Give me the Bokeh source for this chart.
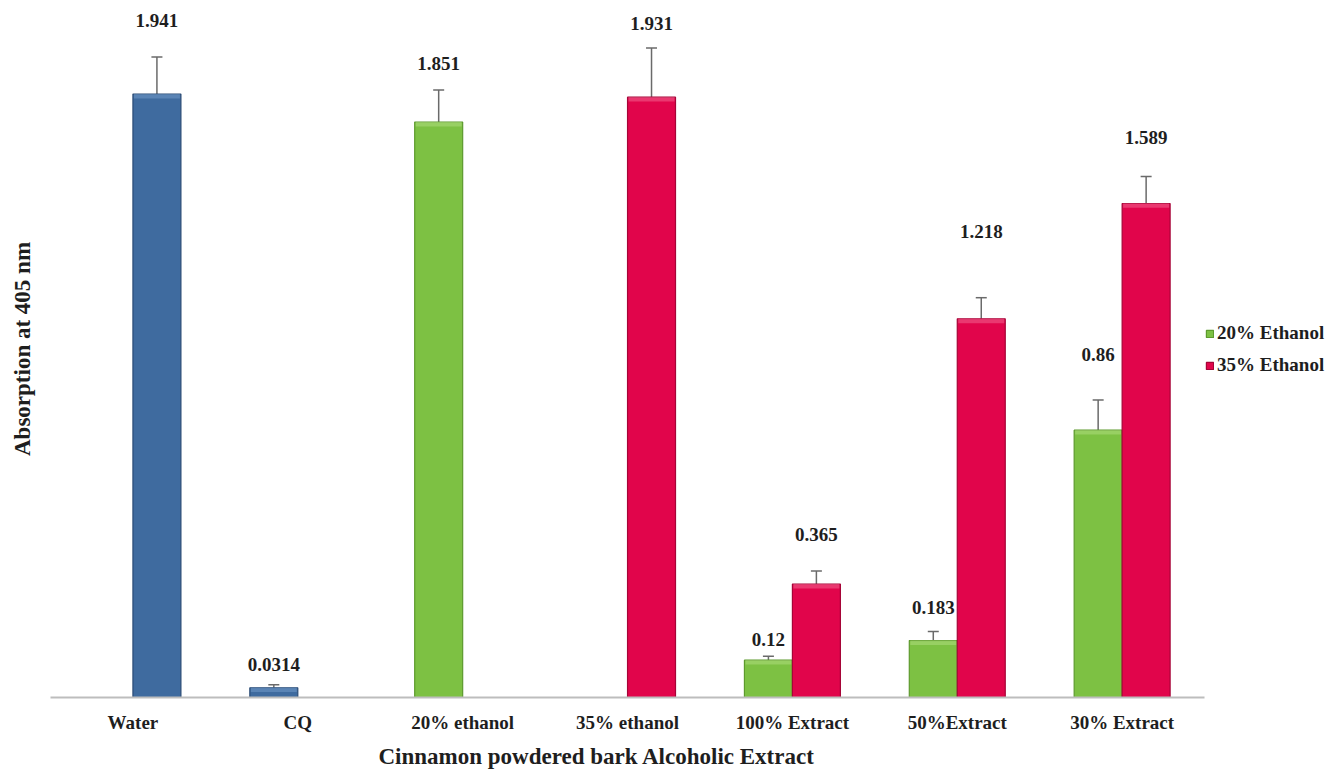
from bokeh.plotting import figure
from bokeh.models import (ColumnDataSource, Range1d, FixedTicker, Whisker, TeeHead,
                          Legend, LegendItem, LinearAxis, Title)
from bokeh.embed import file_html
from bokeh.resources import INLINE
from bokeh.core.properties import value

# ---------------- data ----------------
categories = ["Water", "CQ", "20% ethanol", "35% ethanol", "100% Extract", "50%Extract", "30% Extract"]
ethanol20 = [None, 0.0314, 1.851, None, 0.12, 0.183, 0.86]
ethanol20_err = [None, 0.010, 0.103, None, 0.013, 0.029, 0.097]
ethanol35 = [1.941, None, None, 1.931, 0.365, 1.218, 1.589]
ethanol35_err = [0.119, None, None, 0.158, 0.042, 0.068, 0.087]
labels20 = ["", "0.0314", "1.851", "", "0.12", "0.183", "0.86"]
labels35 = ["1.941", "", "", "1.931", "0.365", "1.218", "1.589"]
controls = ["Water", "CQ"]            # drawn in blue
series_names = ["20% Ethanol", "35% Ethanol"]
x_title = "Cinnamon powdered bark Alcoholic Extract"
y_title = "Absorption at 405 nm"

# ---------------- styling / layout ----------------
label_gap20 = [0, 20, 27, 0, 17, 24, 45]     # px between error cap and value label
label_gap35 = [37, 0, 0, 25, 36, 66, 39]
SLOT = 0.1455
BAR_W = 0.291
FONT = "Liberation Serif"
TXT = "#1E1E1E"
colors = {"blue": ("#3F6B9F", "#2A4B75", "#7199C6"),
          "green": ("#7DC143", "#5D9A2D", "#AEDD7E"),
          "red": ("#E1054B", "#A60437", "#F2628F")}


def build(vals, errs, labs, gaps, offset, want_control):
    d = dict(x=[], top=[], up=[], hl=[], lab=[], yoff=[])
    for i, (c, v, e, l, g) in enumerate(zip(categories, vals, errs, labs, gaps)):
        if v is None or ((c in controls) != want_control):
            continue
        d["x"].append(i + 0.5 + offset)
        d["top"].append(v)
        d["up"].append(v + e)
        d["hl"].append(max(v - 0.014, 0))
        d["lab"].append(l)
        d["yoff"].append(-g)
    return ColumnDataSource(d)


p = figure(width=1333, height=776, output_backend="svg", toolbar_location=None,
           x_range=Range1d(0, 7.782), y_range=Range1d(0, 2.242),
           x_axis_type=None, y_axis_type=None,
           min_border_left=50, min_border_right=0, min_border_top=0, min_border_bottom=79)
p.outline_line_color = None
p.background_fill_color = "white"

groups = [
    (build(ethanol20, ethanol20_err, labels20, label_gap20, -SLOT, True), "blue"),
    (build(ethanol35, ethanol35_err, labels35, label_gap35, SLOT, True), "blue"),
    (build(ethanol20, ethanol20_err, labels20, label_gap20, -SLOT, False), "green"),
    (build(ethanol35, ethanol35_err, labels35, label_gap35, SLOT, False), "red"),
]

bar_renderers = {}
for src, ck in groups:
    fill, line, hl = colors[ck]
    r = p.vbar(x="x", top="top", bottom=0, width=BAR_W, source=src,
               fill_color=fill, line_color=line, line_width=1.2)
    bar_renderers[ck] = r
    p.vbar(x="x", top="top", bottom="hl", width=BAR_W - 0.012, source=src,
           fill_color=hl, fill_alpha=0.55, line_color=None)
    p.add_layout(Whisker(source=src, base="x", lower="top", upper="up", dimension="height",
                         line_color="#6A6A6A", line_width=1.5,
                         lower_head=None,
                         upper_head=TeeHead(size=11, line_color="#6A6A6A", line_width=1.5)))
    p.text(x="x", y="up", text="lab", y_offset="yoff", source=src,
           text_align="center", text_baseline="middle",
           text_font=value(FONT), text_font_style="bold", text_font_size="19px",
           text_color=TXT)

legend = Legend(items=[LegendItem(label=series_names[0], renderers=[bar_renderers["green"]]),
                       LegendItem(label=series_names[1], renderers=[bar_renderers["red"]])],
                location=(1155, 321), orientation="vertical",
                glyph_width=9, glyph_height=9, label_standoff=3, spacing=10,
                padding=0, margin=0, border_line_color=None, background_fill_alpha=0,
                label_text_font=FONT, label_text_font_style="bold",
                label_text_font_size="19px", label_text_color=TXT,
                label_height=22)
p.add_layout(legend)

# x axis
xaxis = LinearAxis(ticker=FixedTicker(ticks=[i + 0.5 for i in range(len(categories))]),
                   bounds=(0, len(categories)))
xaxis.major_label_overrides = {i + 0.5: c for i, c in enumerate(categories)}
xaxis.axis_line_color = "#BDBDBD"
xaxis.axis_line_width = 2
xaxis.major_tick_line_color = None
xaxis.minor_tick_line_color = None
xaxis.major_tick_out = 0
xaxis.major_tick_in = 0
xaxis.major_label_standoff = 14
xaxis.major_label_text_font = FONT
xaxis.major_label_text_font_style = "bold"
xaxis.major_label_text_font_size = "19px"
xaxis.major_label_text_color = TXT
p.add_layout(xaxis, "below")

# x title (below the category labels)
p.add_layout(Title(text=x_title, align="left", offset=328, standoff=12,
                   vertical_align="bottom",
                   text_font=FONT, text_font_style="bold", text_font_size="23px",
                   text_color=TXT), "below")

# y axis (title only)
yaxis = LinearAxis(ticker=FixedTicker(ticks=[]))
yaxis.axis_line_color = None
yaxis.major_tick_line_color = None
yaxis.minor_tick_line_color = None
yaxis.major_tick_out = 0
yaxis.major_tick_in = 0
yaxis.major_label_standoff = 0
yaxis.major_label_text_font_size = "0px"
yaxis.axis_label = y_title
yaxis.axis_label_standoff = 16
yaxis.axis_label_text_font = FONT
yaxis.axis_label_text_font_style = "bold"
yaxis.axis_label_text_font_size = "23px"
yaxis.axis_label_text_color = TXT
p.add_layout(yaxis, "left")

p.xgrid.visible = False
p.ygrid.visible = False

open("out.html", "w").write(file_html(p, INLINE))
